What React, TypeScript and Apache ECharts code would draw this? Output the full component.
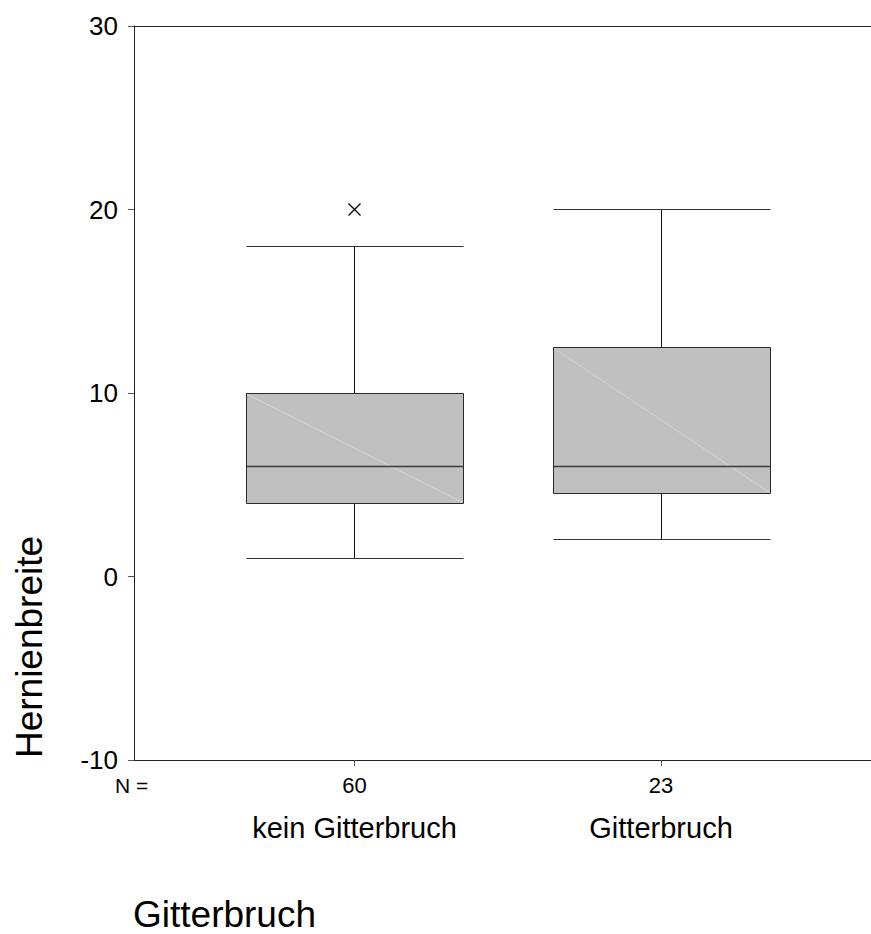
import React, { useEffect, useRef } from "react";
import * as echarts from "echarts";

// ---- data ----
const categories = ["kein Gitterbruch", "Gitterbruch"];
const nCounts = [60, 23];
// [low whisker, Q1, median, Q3, high whisker]
const boxStats = [
  [1, 4, 6, 10, 18],
  [2, 4.5, 6, 12.5, 20],
];
// outliers: [category position (1-based), value]
const outliers = [[1, 20]];
const yTicks = { min: -10, max: 30, interval: 10 };
const yAxisTitle = "Hernienbreite";
const xAxisTitle = "Gitterbruch";

const FONT = "'Liberation Sans', Arial, Helvetica, sans-serif";
const BOX_W = 0.711; // box width in x-axis units

const crisp = (v: number) => Math.round(v - 0.5) + 0.5;

export default function App() {
  const ref = useRef<HTMLDivElement>(null);
  useEffect(() => {
    if (!ref.current) return;
    const chart = echarts.init(ref.current, null, { renderer: "svg" });
    const boxData = boxStats.map((s, i) => [i + 1, ...s]);

    const option: any = {
      animation: false,
      backgroundColor: "#ffffff",
      textStyle: { fontFamily: FONT },
      grid: { left: 134, top: 26, right: 0, bottom: 174, containLabel: false },
      xAxis: [
        {
          type: "value",
          min: 0.2806,
          max: 2.685,
          position: "bottom",
          axisLine: { show: true, onZero: false, lineStyle: { color: "#222", width: 1 } },
          axisTick: { show: true, customValues: [1, 2], length: 6, inside: false, lineStyle: { color: "#555" } },
          splitLine: { show: false },
          axisLabel: {
            show: true,
            customValues: [1, 2],
            margin: 4,
            fontFamily: FONT,
            formatter: (v: number) => {
              const i = Math.round(v) - 1;
              return `{n|${nCounts[i]}}\n{c|${categories[i]}}`;
            },
            rich: {
              n: { fontSize: 22, lineHeight: 42, color: "#000", fontFamily: FONT },
              c: { fontSize: 29, lineHeight: 44, color: "#000", fontFamily: FONT },
            },
          },
        },
        {
          type: "value",
          min: 0.2806,
          max: 2.685,
          position: "top",
          axisLine: { show: true, onZero: false, lineStyle: { color: "#222", width: 1 } },
          axisTick: { show: false },
          axisLabel: { show: false },
          splitLine: { show: false },
        },
      ],
      yAxis: {
        type: "value",
        min: yTicks.min,
        max: yTicks.max,
        interval: yTicks.interval,
        axisLine: { show: true, onZero: false, lineStyle: { color: "#222", width: 1 } },
        axisTick: { show: true, length: 6, inside: false, lineStyle: { color: "#555" } },
        splitLine: { show: false },
        axisLabel: { fontSize: 26, color: "#000", margin: 16, fontFamily: FONT },
      },
      series: [
        {
          type: "custom",
          xAxisIndex: 0,
          data: boxData,
          encode: { x: 0, y: [1, 2, 3, 4, 5] },
          renderItem: (params: any, api: any) => {
            const x = api.value(0);
            const lo = api.coord([x, api.value(1)]);
            const q1 = api.coord([x, api.value(2)]);
            const med = api.coord([x, api.value(3)]);
            const q3 = api.coord([x, api.value(4)]);
            const hi = api.coord([x, api.value(5)]);
            const half = api.size([BOX_W, 0])[0] / 2;
            const cx = crisp(lo[0]);
            const l = Math.round(cx - half) + 0.5;
            const r = Math.round(cx + half) + 0.5;
            const yLo = crisp(lo[1]);
            const yQ1 = crisp(q1[1]);
            const yMed = crisp(med[1]);
            const yQ3 = crisp(q3[1]);
            const yHi = crisp(hi[1]);
            const lineStyle = { stroke: "#111", lineWidth: 1 };
            const capStyle = { stroke: "#333", lineWidth: 1 };
            return {
              type: "group",
              children: [
                { type: "line", shape: { x1: cx, y1: yHi, x2: cx, y2: yQ3 }, style: lineStyle },
                { type: "line", shape: { x1: cx, y1: yQ1, x2: cx, y2: yLo }, style: lineStyle },
                { type: "line", shape: { x1: l, y1: yHi, x2: r, y2: yHi }, style: capStyle },
                { type: "line", shape: { x1: l, y1: yLo, x2: r, y2: yLo }, style: capStyle },
                {
                  type: "rect",
                  shape: { x: l, y: yQ3, width: r - l, height: yQ1 - yQ3 },
                  style: { fill: "#c0c0c0", stroke: "#2a2a2a", lineWidth: 1 },
                },
                {
                  type: "line",
                  shape: { x1: l + 1, y1: yQ3 + 1, x2: r - 1, y2: yQ1 - 1 },
                  style: { stroke: "#dadada", lineWidth: 0.8 },
                },
                {
                  type: "line",
                  shape: { x1: l, y1: yMed, x2: r, y2: yMed },
                  style: { stroke: "#3a3a3a", lineWidth: 1.5 },
                },
              ],
            };
          },
        },
        {
          type: "custom",
          xAxisIndex: 0,
          data: outliers,
          encode: { x: 0, y: 1 },
          renderItem: (params: any, api: any) => {
            const p = api.coord([api.value(0), api.value(1)]);
            const s = 6;
            const st = { stroke: "#000", lineWidth: 1.2 };
            return {
              type: "group",
              children: [
                { type: "line", shape: { x1: p[0] - s, y1: p[1] - s, x2: p[0] + s, y2: p[1] + s }, style: st },
                { type: "line", shape: { x1: p[0] - s, y1: p[1] + s, x2: p[0] + s, y2: p[1] - s }, style: st },
              ],
            };
          },
        },
      ],
      graphic: [
        {
          type: "text",
          x: 29,
          y: 647,
          rotation: Math.PI / 2,
          style: {
            text: yAxisTitle,
            fontSize: 37,
            fontFamily: FONT,
            fill: "#000",
            align: "center",
            verticalAlign: "middle",
          },
        },
        {
          type: "text",
          x: 115,
          y: 785,
          style: {
            text: "N =",
            fontSize: 21,
            fontFamily: FONT,
            fill: "#000",
            align: "left",
            verticalAlign: "middle",
          },
        },
        {
          type: "text",
          x: 133,
          y: 914,
          style: {
            text: xAxisTitle,
            fontSize: 37,
            fontFamily: FONT,
            fill: "#000",
            align: "left",
            verticalAlign: "middle",
          },
        },
      ],
    };
    chart.setOption(option);
    return () => chart.dispose();
  }, []);
  return (
    <div
      ref={ref}
      style={{ position: "absolute", left: 0, top: 0, width: 871, height: 934, background: "#fff" }}
    />
  );
}
